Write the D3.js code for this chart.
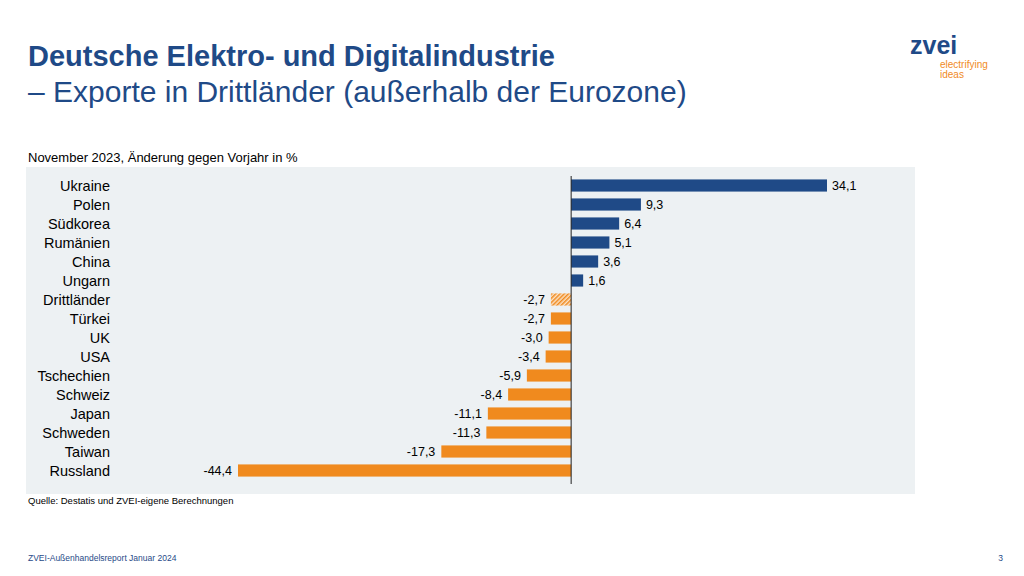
<!DOCTYPE html>
<html><head><meta charset="utf-8">
<script src="https://cdn.jsdelivr.net/npm/d3@7"></script>
<style>body{margin:0;background:#fff;font-family:Arial,"Liberation Sans",sans-serif}</style>
</head><body><svg id="c" width="1024" height="576"></svg>
<script>
const categories=["Ukraine","Polen","Südkorea","Rumänien","China","Ungarn","Drittländer","Türkei","UK","USA","Tschechien","Schweiz","Japan","Schweden","Taiwan","Russland"];
const values=[34.1,9.3,6.4,5.1,3.6,1.6,-2.7,-2.7,-3.0,-3.4,-5.9,-8.4,-11.1,-11.3,-17.3,-44.4];
const hatched=["Drittländer"];
const svg=d3.select("#c");
const blue="#1f4a87",orange="#f08a1e";
const defs=svg.append("defs");
const p=defs.append("pattern").attr("id","h").attr("patternUnits","userSpaceOnUse").attr("width",3).attr("height",3).attr("patternTransform","rotate(45)");
p.append("rect").attr("width",3).attr("height",3).attr("fill","#fbe2c6");
p.append("rect").attr("width",1.5).attr("height",3).attr("fill",orange);
svg.append("text").attr("x",28).attr("y",66).attr("fill",blue).attr("font-size",29).attr("font-weight","bold").text("Deutsche Elektro- und Digitalindustrie");
svg.append("text").attr("x",28).attr("y",102).attr("fill",blue).attr("font-size",30).text("– Exporte in Drittländer (außerhalb der Eurozone)");
svg.append("text").attr("x",910).attr("y",54).attr("fill",blue).attr("font-size",25).attr("font-weight","bold").text("zvei");
svg.append("text").attr("x",940).attr("y",68).attr("fill",orange).attr("font-size",10).text("electrifying");
svg.append("text").attr("x",940).attr("y",78).attr("fill",orange).attr("font-size",10).text("ideas");
svg.append("text").attr("x",28).attr("y",162).attr("font-size",13).text("November 2023, Änderung gegen Vorjahr in %");
svg.append("rect").attr("x",26).attr("y",167).attr("width",889).attr("height",327).attr("fill","#edf1f3");
const x=d3.scaleLinear().domain([-44.4,34.1]).range([238,827]);
const y=d3.scaleBand().domain(categories).range([176,480]).paddingInner(0.36).paddingOuter(0.18);
const g=svg.append("g");
g.selectAll("rect.b").data(categories).join("rect").attr("class","b")
 .attr("x",(d,i)=>x(Math.min(0,values[i]))).attr("y",d=>y(d)).attr("height",y.bandwidth())
 .attr("width",(d,i)=>Math.abs(x(values[i])-x(0)))
 .attr("fill",(d,i)=>hatched.includes(d)?"url(#h)":values[i]>=0?blue:orange);
g.selectAll("text.c").data(categories).join("text").attr("class","c").attr("x",110).attr("y",d=>y(d)+y.bandwidth()/2+5).attr("text-anchor","end").attr("font-size",14.5).text(d=>d);
const fmt=v=>v.toFixed(1).replace(".",",");
g.selectAll("text.v").data(categories).join("text").attr("class","v")
 .attr("x",(d,i)=>values[i]>=0?x(values[i])+5:x(values[i])-6).attr("text-anchor",(d,i)=>values[i]>=0?"start":"end")
 .attr("y",d=>y(d)+y.bandwidth()/2+4.5).attr("font-size",12.5).text((d,i)=>fmt(values[i]));
svg.append("line").attr("x1",x(0)).attr("x2",x(0)).attr("y1",176).attr("y2",484).attr("stroke","#222").attr("stroke-width",1);
svg.append("text").attr("x",28).attr("y",504).attr("font-size",9.5).text("Quelle: Destatis und ZVEI-eigene Berechnungen");
svg.append("text").attr("x",28).attr("y",561).attr("font-size",8.5).attr("fill",blue).text("ZVEI-Außenhandelsreport Januar 2024");
svg.append("text").attr("x",1003).attr("y",561).attr("font-size",8.5).attr("fill",blue).attr("text-anchor","end").text("3");
</script></body></html>
